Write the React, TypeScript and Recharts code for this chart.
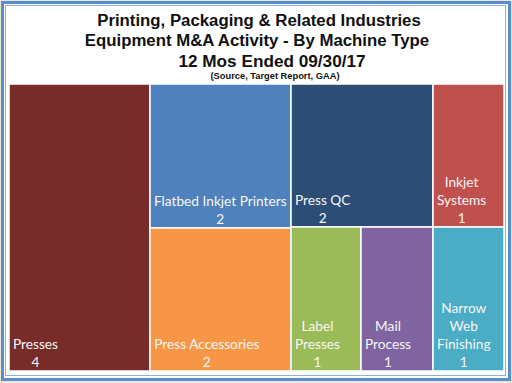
import React from "react";
import { Treemap } from "recharts";

const machineTypes = [
  "Presses",
  "Flatbed Inkjet Printers",
  "Press Accessories",
  "Press QC",
  "Inkjet Systems",
  "Label Presses",
  "Mail Process",
  "Narrow Web Finishing",
];
const dealCounts = [4, 2, 2, 2, 1, 1, 1, 1];
// these two sit under one parent so the squarify pass keeps them side by side
const pairedTypes = ["Mail Process", "Narrow Web Finishing"];

const titleLines = [
  "Printing, Packaging & Related Industries",
  "Equipment M&A Activity - By Machine Type",
  "12 Mos Ended 09/30/17",
];
const sourceNote = "(Source, Target Report, GAA)";

const colorMap: Record<string, string> = {
  Presses: "#772c2a",
  "Flatbed Inkjet Printers": "#4f81bd",
  "Press Accessories": "#f79646",
  "Press QC": "#2c4d75",
  "Inkjet Systems": "#c0504d",
  "Label Presses": "#9bbb59",
  "Mail Process": "#8064a2",
  "Narrow Web Finishing": "#4bacc6",
};

const leaves = machineTypes.map((name, i) => ({ name, value: dealCounts[i] }));
const treeData = [
  ...leaves.filter((d) => !pairedTypes.includes(d.name)),
  { name: "Other", children: leaves.filter((d) => pairedTypes.includes(d.name)) },
];

const LABEL_FONT = "Lato";
const LABEL_SIZE = 13.7;
const LINE_H = 18;

let ctx: CanvasRenderingContext2D | null = null;
function textWidth(s: string) {
  if (!ctx) ctx = document.createElement("canvas").getContext("2d");
  if (!ctx) return s.length * 6;
  ctx.font = `${LABEL_SIZE}px ${LABEL_FONT}`;
  return ctx.measureText(s).width;
}

function wrap(text: string, maxW: number) {
  const words = text.split(" ");
  const lines: string[] = [];
  let cur = "";
  for (const w of words) {
    const next = cur ? cur + " " + w : w;
    if (cur && textWidth(next) > maxW) {
      lines.push(cur);
      cur = w;
    } else {
      cur = next;
    }
  }
  if (cur) lines.push(cur);
  return lines;
}

function Tile(props: any) {
  const { x, y, width, height, name, value, children } = props;
  if (children && children.length) return null;
  const lines = [...wrap(name, width - 5), String(value)];
  const blockW = Math.max(...lines.map(textWidth));
  const cx = x + 4 + blockW / 2;
  const bottom = y + height - 4;
  return (
    <g>
      <rect
        x={x}
        y={y}
        width={width}
        height={height}
        fill={colorMap[name]}
        stroke="#fff"
        strokeWidth={1.5}
      />
      {lines.map((l, i) => (
        <text
          key={i}
          x={cx}
          y={bottom - (lines.length - 1 - i) * LINE_H}
          textAnchor="middle"
          fill="#f6f6f6"
          fontFamily={LABEL_FONT}
          fontSize={LABEL_SIZE}
        >
          {l}
        </text>
      ))}
    </g>
  );
}

export default function App() {
  return (
    <div
      style={{
        position: "fixed",
        left: 0,
        top: 0,
        width: 512,
        height: 383,
        background: "#ece9d3",
        overflow: "hidden",
      }}
    >
      <div
        style={{
          position: "absolute",
          left: 1,
          top: 1,
          width: 504,
          height: 374,
          border: "3px solid #5b8bd0",
          background: "#fff",
        }}
      />
      <div
        style={{
          position: "absolute",
          left: 5,
          top: 5,
          width: 499,
          height: 369,
          border: "1px solid #8cb0e0",
        }}
      />
      <svg
        width={512}
        height={84}
        style={{ position: "absolute", left: 0, top: 0 }}
        fontFamily="'Liberation Sans', Arial, sans-serif"
        fontWeight="bold"
      >
        <text x={259} y={26} textAnchor="middle" fontSize={16.8} fill="#111">
          {titleLines[0]}
        </text>
        <text x={257} y={46} textAnchor="middle" fontSize={16.8} fill="#111">
          {titleLines[1]}
        </text>
        <text x={272} y={67} textAnchor="middle" fontSize={17.2} fill="#111">
          {titleLines[2]}
        </text>
        <text x={275} y={79} textAnchor="middle" fontSize={9.3} fill="#111">
          {sourceNote}
        </text>
      </svg>
      <div style={{ position: "absolute", left: 9, top: 84 }}>
        <Treemap
          width={495}
          height={287}
          data={treeData}
          dataKey="value"
          nameKey="name"
          aspectRatio={1.03}
          isAnimationActive={false}
          content={<Tile />}
        />
      </div>
    </div>
  );
}
